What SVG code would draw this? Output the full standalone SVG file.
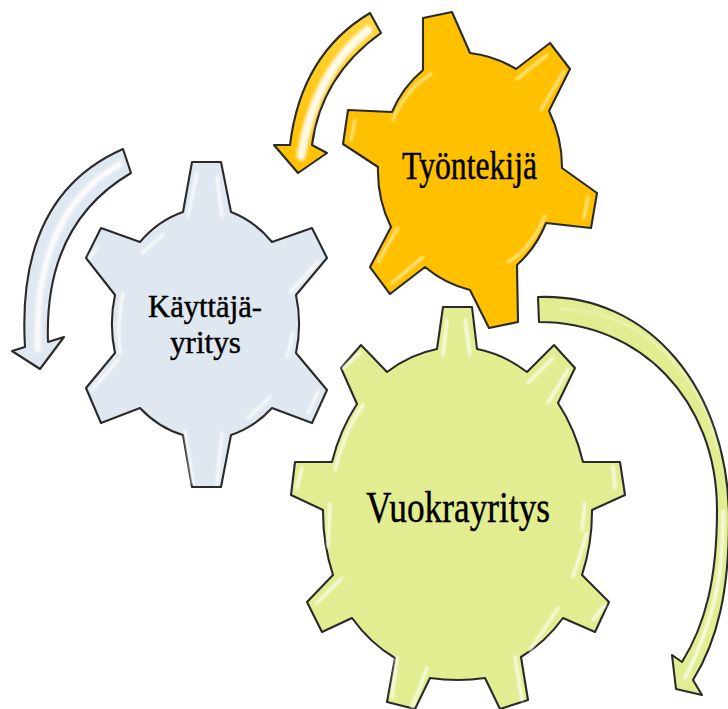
<svg xmlns="http://www.w3.org/2000/svg" width="728" height="709" viewBox="0 0 728 709">
<defs>
<filter id="soft" x="-30%" y="-30%" width="160%" height="160%"><feGaussianBlur stdDeviation="0.8"/></filter>
<filter id="soft2" x="-30%" y="-30%" width="160%" height="160%"><feGaussianBlur stdDeviation="1.6"/></filter>
<linearGradient id="oa" gradientUnits="userSpaceOnUse" x1="370" y1="20" x2="298" y2="170"><stop offset="0" stop-color="#ffd53a"/><stop offset="1" stop-color="#ffc000"/></linearGradient>
</defs>
<style>
.e{stroke:#2a2a2a;stroke-width:2.1;stroke-linejoin:round}
.h{fill:none;stroke:#fff;stroke-width:3;stroke-linecap:round;opacity:.8;filter:url(#soft)}
.t{font-family:"Liberation Serif","Times New Roman",serif;fill:#000;stroke:#000;stroke-width:.45;text-anchor:start}
</style>
<g id="connectors">
<g id="arrow-orange">
<path class="e" fill="url(#oa)" d="M370 13L381 33Q321 76 312 145L327 153L298 173L274 145L290 145Q301 54 370 13Z"/>
<path d="M368 30Q315 72 301 156" fill="none" stroke="#fff" stroke-width="9" stroke-linecap="round" opacity=".9" filter="url(#soft2)"/>
</g>
<g id="arrow-blue">
<path class="e" fill="#dfe8f0" d="M123 149L131 173Q44 224 48 342L64 337L40 369L12 351L25 347Q16 196 123 149Z"/>
<path d="M122 163Q32 212 38 352" fill="none" stroke="#fff" stroke-width="6" opacity=".85" filter="url(#soft2)"/>
</g>
<g id="arrow-green">
<path class="e" fill="#e2ed91" d="M538 297L539 322C640 322 717 400 717 510C717 580 705 625 682 662L672 655L676 689L702 695L693 680C718 640 729 590 729 520C729 390 650 293 538 297Z"/>
<path d="M723 510C724 580 712 625 684 680" fill="none" stroke="#fff" stroke-width="3" opacity=".85" filter="url(#soft)"/>
<path d="M560 309C640 310 700 370 718 450" fill="none" stroke="#fff" stroke-width="1.5" opacity=".5" filter="url(#soft)"/>
</g>
</g>
<g id="node-orange">
<path class="e" fill="#ffc000" d="M423 18L452 12L470 53A112 112 0 0 1 516 69L550 43L570 69L549 111A112 120 0 0 1 562 168L597 193L591 228L546 223A112 112 0 0 1 517 265L518 322L489 328L470 290A112 112 0 0 1 425 267L390 294L370 267L391 227A112 120 0 0 1 378 167L343 144L348 110L392 112A112 112 0 0 1 423 70Z"/>
<g class="h" style="stroke:#ffefa8">
<path d="M393 120Q405 90 431 74M517 79L547 55M541 110L564 71M588 197L584 218M508 262Q530 250 545 216M398 228L378 262M423 257L392 283M355 120L351 140"/>
</g>
<text class="t" x="402" y="179" font-size="39" textLength="135" lengthAdjust="spacingAndGlyphs">Työntekijä</text>
</g>
<g id="node-blue">
<path class="e" fill="#dfe8f0" d="M192 162L221 162L231 212A100 118 0 0 1 272 242L312 228L327 258L296 295A100 118 0 0 1 296 353L327 390L312 423L272 408A100 118 0 0 1 231 435L221 487L192 487L183 435A100 118 0 0 1 140 408L101 423L86 388L115 353A100 118 0 0 1 115 295L86 258L101 228L140 242A100 118 0 0 1 183 212Z"/>
<g class="h">
<path d="M217 177L222 217M197 173L188 217M142 253L163 235M90 257L97 248M318 262L290 292M123 293Q117 320 120 353M287 357L293 333M118 360L92 390M318 392L308 413M270 397L248 418M185 430L193 483M222 433L217 483"/>
</g>
<text class="t" x="148" y="317" font-size="31.5" textLength="114" lengthAdjust="spacingAndGlyphs">Käyttäjä-</text>
<text class="t" x="170" y="353" font-size="31.5" textLength="71" lengthAdjust="spacingAndGlyphs">yritys</text>
</g>
<g id="node-green">
<path class="e" fill="#e2ed91" d="M443 307L472 307L477 349A135 168 0 0 1 527 372L554 345L575 368L558 403A135 168 0 0 1 583 462L620 462L625 495L592 510A135 168 0 0 1 582 575L609 602L595 632L563 618A135 168 0 0 1 521 657L528 700L500 709L485 678Q458 682 430 678L415 709L387 702L395 658A135 168 0 0 1 352 618L322 632L307 602L333 575A135 168 0 0 1 323 510L291 495L295 462L332 462A135 168 0 0 1 357 404L341 368L361 345L387 372A135 168 0 0 1 437 349Z"/>
<g class="h">
<path d="M447 320L443 355M465 320L470 355M343 368L360 353M528 383L553 358M568 370L548 403M363 405Q345 430 335 470M302 468L297 488M613 467L615 488M330 503L328 547M585 503L582 530M587 533L573 577M342 578L317 603M605 605L593 620M558 608Q540 635 530 650M427 668L412 707M397 657L392 697M515 657L522 700"/>
</g>
<text class="t" x="366" y="522" font-size="44" textLength="184" lengthAdjust="spacingAndGlyphs">Vuokrayritys</text>
</g>
</svg>
